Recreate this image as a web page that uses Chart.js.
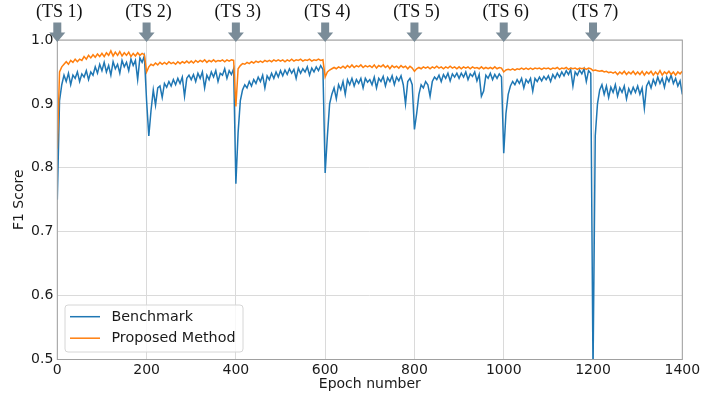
<!DOCTYPE html>
<html><head><meta charset="utf-8">
<script src="https://cdn.jsdelivr.net/npm/chart.js@4/dist/chart.umd.min.js"></script>
<style>html,body{margin:0;padding:0;background:#fff}</style>
</head><body>
<canvas id="c" width="706" height="395"></canvas>
<script>
// Samples every 5 epochs, 0..1400
const STEP = 5;
const benchmark = [
0.750,0.905,0.930,0.945,0.935,0.948,0.930,0.945,0.940,0.950,0.935,0.947,0.942,0.952,0.938,0.950,0.945,0.958,0.948,0.962,
0.952,0.965,0.950,0.960,0.945,0.966,0.955,0.962,0.948,0.968,0.958,0.965,0.952,0.970,0.960,0.968,0.938,0.972,0.965,0.975,
0.905,0.850,0.890,0.922,0.898,0.925,0.928,0.910,0.932,0.926,0.935,0.928,0.938,0.930,0.940,0.932,0.942,0.912,0.940,0.945,
0.938,0.946,0.935,0.948,0.940,0.950,0.925,0.945,0.938,0.950,0.942,0.952,0.935,0.948,0.945,0.955,0.940,0.952,0.946,0.955,
0.775,0.855,0.905,0.922,0.930,0.925,0.935,0.928,0.938,0.932,0.942,0.935,0.945,0.925,0.944,0.938,0.948,0.940,0.950,0.942,
0.952,0.944,0.953,0.946,0.955,0.948,0.954,0.940,0.956,0.948,0.955,0.950,0.958,0.945,0.956,0.950,0.958,0.952,0.960,0.954,
0.792,0.850,0.900,0.915,0.925,0.908,0.930,0.922,0.935,0.915,0.938,0.930,0.940,0.928,0.938,0.932,0.940,0.925,0.940,0.934,
0.938,0.930,0.942,0.925,0.940,0.935,0.943,0.928,0.941,0.935,0.944,0.930,0.942,0.936,0.944,0.930,0.900,0.935,0.940,0.930,
0.860,0.885,0.915,0.930,0.925,0.935,0.930,0.912,0.935,0.942,0.938,0.945,0.935,0.946,0.940,0.948,0.936,0.947,0.942,0.948,
0.940,0.948,0.942,0.950,0.938,0.947,0.943,0.950,0.936,0.946,0.912,0.920,0.945,0.940,0.948,0.938,0.946,0.940,0.947,0.942,
0.823,0.885,0.915,0.928,0.935,0.930,0.938,0.932,0.940,0.925,0.938,0.933,0.940,0.920,0.940,0.935,0.942,0.936,0.943,0.938,
0.944,0.935,0.946,0.940,0.948,0.942,0.950,0.944,0.952,0.946,0.954,0.928,0.950,0.945,0.953,0.947,0.955,0.935,0.952,0.948,
0.480,0.850,0.900,0.922,0.930,0.915,0.928,0.910,0.926,0.918,0.930,0.912,0.925,0.918,0.928,0.908,0.924,0.916,0.926,0.918,
0.928,0.915,0.925,0.893,0.928,0.935,0.925,0.938,0.930,0.942,0.932,0.940,0.926,0.942,0.935,0.945,0.932,0.940,0.928,0.936,
0.915
];
const proposed = [
0.830,0.950,0.958,0.962,0.966,0.962,0.968,0.965,0.970,0.966,0.970,0.968,0.974,0.970,0.976,0.972,0.977,0.973,0.978,0.974,
0.979,0.974,0.980,0.976,0.983,0.975,0.981,0.976,0.982,0.975,0.980,0.976,0.981,0.974,0.979,0.975,0.980,0.976,0.979,0.977,
0.950,0.958,0.962,0.960,0.964,0.961,0.965,0.962,0.965,0.962,0.966,0.963,0.965,0.962,0.966,0.963,0.966,0.964,0.967,0.964,
0.967,0.964,0.968,0.965,0.968,0.966,0.969,0.965,0.968,0.966,0.969,0.966,0.968,0.967,0.969,0.966,0.969,0.967,0.969,0.968,
0.896,0.955,0.960,0.963,0.962,0.965,0.963,0.966,0.964,0.967,0.965,0.967,0.965,0.968,0.966,0.968,0.966,0.969,0.967,0.969,
0.967,0.969,0.966,0.969,0.967,0.970,0.967,0.969,0.968,0.970,0.967,0.969,0.968,0.970,0.967,0.969,0.968,0.970,0.968,0.969,
0.942,0.950,0.953,0.955,0.957,0.955,0.958,0.956,0.959,0.956,0.960,0.957,0.961,0.957,0.960,0.958,0.961,0.957,0.960,0.958,
0.960,0.957,0.961,0.956,0.960,0.958,0.961,0.957,0.960,0.955,0.960,0.957,0.959,0.956,0.960,0.957,0.959,0.955,0.959,0.956,
0.951,0.955,0.957,0.955,0.958,0.956,0.958,0.955,0.958,0.956,0.959,0.956,0.958,0.955,0.958,0.956,0.959,0.956,0.958,0.955,
0.958,0.955,0.958,0.956,0.958,0.955,0.958,0.956,0.957,0.955,0.958,0.955,0.957,0.955,0.957,0.955,0.958,0.955,0.957,0.956,
0.950,0.953,0.954,0.953,0.955,0.953,0.955,0.954,0.956,0.954,0.956,0.954,0.956,0.954,0.956,0.955,0.956,0.954,0.956,0.955,
0.956,0.954,0.956,0.955,0.957,0.954,0.956,0.955,0.957,0.954,0.956,0.955,0.956,0.954,0.956,0.955,0.956,0.954,0.956,0.955,
0.952,0.953,0.952,0.951,0.952,0.950,0.951,0.949,0.950,0.948,0.950,0.946,0.950,0.947,0.951,0.946,0.950,0.947,0.951,0.946,
0.950,0.946,0.951,0.945,0.950,0.947,0.951,0.945,0.950,0.946,0.952,0.945,0.950,0.947,0.951,0.946,0.950,0.945,0.950,0.947,
0.951
];
const seriesNames = ['Benchmark', 'Proposed Method'];
const seriesColors = ['#1f77b4', '#ff7f0e'];
const xTicks = [0, 200, 400, 600, 800, 1000, 1200, 1400];
const yTicks = [0.5, 0.6, 0.7, 0.8, 0.9, 1.0];
const markerEpochs = [0, 200, 400, 600, 800, 1000, 1200];
const markerLabels = ['(TS 1)', '(TS 2)', '(TS 3)', '(TS 4)', '(TS 5)', '(TS 6)', '(TS 7)'];

const toPts = arr => arr.map((v, i) => ({x: i * STEP, y: v}));

const FONT = 'DejaVu Sans';
const TXT = '#1a1a1a';

const framePlugin = {
  id: 'frame',
  afterDatasetsDraw(chart) {
    const {ctx, chartArea: a} = chart;
    ctx.save();
    ctx.strokeStyle = '#a0a0a0';
    ctx.lineWidth = 1;
    ctx.strokeRect(a.left, a.top, a.right - a.left, a.bottom - a.top);
    ctx.restore();
  }
};

const legendPlugin = {
  id: 'boxLegend',
  afterDraw(chart) {
    const ctx = chart.ctx;
    ctx.save();
    const bx = 65, by = 305, bw = 178, bh = 47, r = 3;
    ctx.beginPath();
    ctx.moveTo(bx + r, by);
    ctx.arcTo(bx + bw, by, bx + bw, by + bh, r);
    ctx.arcTo(bx + bw, by + bh, bx, by + bh, r);
    ctx.arcTo(bx, by + bh, bx, by, r);
    ctx.arcTo(bx, by, bx + bw, by, r);
    ctx.closePath();
    ctx.fillStyle = 'rgba(255,255,255,0.8)';
    ctx.fill();
    ctx.strokeStyle = '#d6d6d6';
    ctx.lineWidth = 1;
    ctx.stroke();
    chart.data.datasets.forEach((ds, i) => {
      const y = 316.7 + i * 21.5;
      ctx.strokeStyle = ds.borderColor;
      ctx.lineWidth = 1.5;
      ctx.beginPath();
      ctx.moveTo(70, y);
      ctx.lineTo(100, y);
      ctx.stroke();
      ctx.fillStyle = TXT;
      ctx.font = '14.3px "' + FONT + '"';
      ctx.textBaseline = 'middle';
      ctx.textAlign = 'left';
      ctx.fillText(ds.label, 111.5, y + 0.5);
    });
    ctx.restore();
  }
};

const markerPlugin = {
  id: 'markers',
  afterDraw(chart) {
    const ctx = chart.ctx;
    const xs = chart.scales.x;
    ctx.save();
    markerEpochs.forEach((ep, i) => {
      const px = xs.getPixelForValue(ep);
      ctx.fillStyle = '#7a8c98';
      ctx.beginPath();
      ctx.moveTo(px - 4, 22.5);
      ctx.lineTo(px + 4, 22.5);
      ctx.lineTo(px + 4, 32.5);
      ctx.lineTo(px + 8, 32.5);
      ctx.lineTo(px, 42);
      ctx.lineTo(px - 8, 32.5);
      ctx.lineTo(px - 4, 32.5);
      ctx.closePath();
      ctx.fill();
      ctx.fillStyle = '#111';
      ctx.font = '18px "Liberation Serif"';
      ctx.textAlign = 'center';
      ctx.textBaseline = 'middle';
      ctx.fillText(markerLabels[i], px + 2, 12.5);
    });
    ctx.restore();
  }
};

new Chart(document.getElementById('c'), {
  type: 'line',
  data: {
    datasets: [
      {label: seriesNames[0], data: toPts(benchmark), borderColor: seriesColors[0], borderWidth: 1.5,
       pointRadius: 0, tension: 0, fill: false, order: 2, clip: 0},
      {label: seriesNames[1], data: toPts(proposed), borderColor: seriesColors[1], borderWidth: 1.5,
       pointRadius: 0, tension: 0, fill: false, order: 1, clip: 0}
    ]
  },
  options: {
    responsive: false,
    animation: false,
    devicePixelRatio: 1,
    layout: {padding: {left: 0, top: 40, right: 23.7, bottom: 0}},
    plugins: {legend: {display: false}, tooltip: {enabled: false}},
    scales: {
      x: {
        type: 'linear', min: 0, max: 1400,
        afterBuildTicks: s => { s.ticks = xTicks.map(v => ({value: v})); },
        afterFit: s => { s.height = 35.5; },
        grid: {color: '#dadada', lineWidth: 1, drawTicks: false},
        border: {display: false},
        ticks: {padding: 2, color: TXT, font: {family: FONT, size: 14}, maxRotation: 0, callback: v => String(v)},
        title: {display: true, text: 'Epoch number', color: TXT, font: {family: FONT, size: 14}, padding: {top: 0, bottom: 2.6}}
      },
      y: {
        type: 'linear', min: 0.5, max: 1.0,
        afterBuildTicks: s => { s.ticks = yTicks.map(v => ({value: v})); },
        afterFit: s => { s.width = 57.3; },
        grid: {color: '#dadada', lineWidth: 1, drawTicks: false},
        border: {display: false},
        ticks: {padding: 4, color: TXT, font: {family: FONT, size: 14}, callback: v => Number(v).toFixed(1)},
        title: {display: true, text: 'F1 Score', color: TXT, font: {family: FONT, size: 14}, padding: {top: 11, bottom: 0}}
      }
    }
  },
  plugins: [framePlugin, legendPlugin, markerPlugin]
});
</script>
</body></html>
